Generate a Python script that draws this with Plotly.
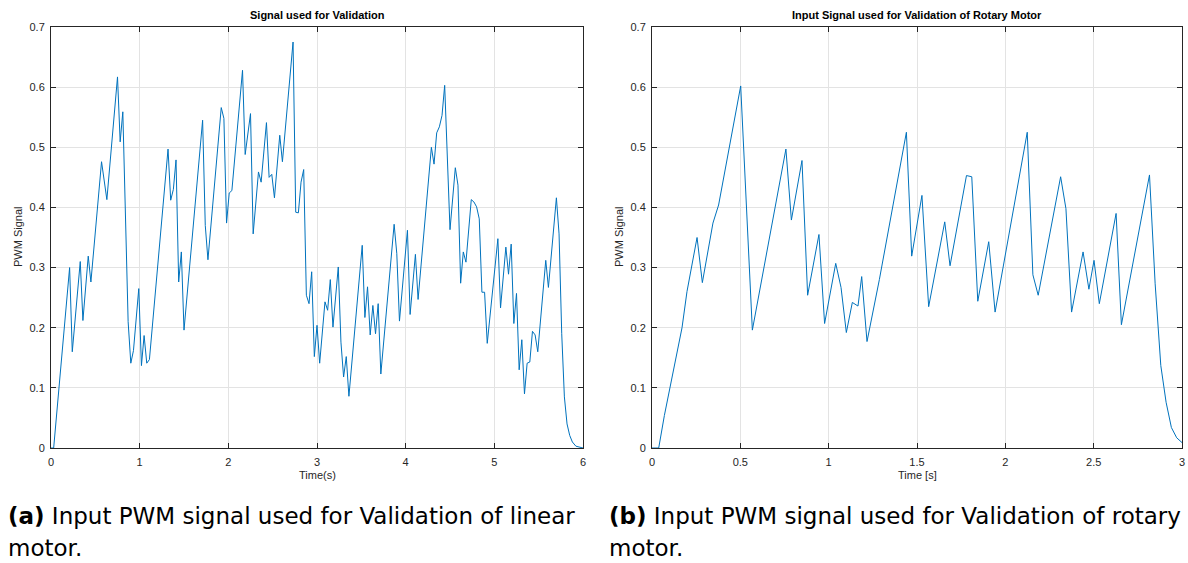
import plotly.graph_objects as go

# ---------------- data ----------------
title_lin = "Signal used for Validation"
title_rot = "Input Signal used for Validation of Rotary Motor"
xlabel_lin = "Time(s)"
xlabel_rot = "Time [s]"
ylabel = "PWM Signal"
caption_a1 = "<b>(a)</b> Input PWM signal used for Validation of linear"
caption_b1 = "<b>(b)</b> Input PWM signal used for Validation of rotary"
caption_2 = "motor."

t_lin = [0, 0.03, 0.21, 0.24, 0.33, 0.36, 0.42, 0.45, 0.57, 0.60, 0.63, 0.75, 0.78, 0.81,
         0.87, 0.90, 0.93, 0.99, 1.02, 1.05, 1.08, 1.11, 1.32, 1.35, 1.38, 1.41, 1.44, 1.47,
         1.50, 1.71, 1.74, 1.77, 1.92, 1.95, 1.98, 2.01, 2.04, 2.16, 2.19, 2.25, 2.28, 2.34,
         2.37, 2.43, 2.46, 2.49, 2.52, 2.58, 2.61, 2.73, 2.76, 2.79, 2.82, 2.85, 2.88, 2.91,
         2.94, 2.97, 3.00, 3.03, 3.09, 3.12, 3.15, 3.18, 3.24, 3.27, 3.30, 3.33, 3.36, 3.51,
         3.54, 3.57, 3.60, 3.63, 3.66, 3.69, 3.72, 3.87, 3.90, 3.93, 4.02, 4.05, 4.11, 4.14,
         4.29, 4.32, 4.35, 4.38, 4.41, 4.44, 4.50, 4.56, 4.59, 4.62, 4.65, 4.68, 4.74, 4.77,
         4.80, 4.83, 4.86, 4.89, 4.92, 5.04, 5.07, 5.13, 5.16, 5.19, 5.22, 5.25, 5.28, 5.31,
         5.34, 5.37, 5.40, 5.43, 5.46, 5.49, 5.58, 5.61, 5.70, 5.73, 5.76, 5.79, 5.82, 5.85,
         5.88, 5.92, 5.96, 6.00]
v_lin = [0, 0, 0.300, 0.160, 0.310, 0.212, 0.319, 0.276, 0.476, 0.440, 0.413, 0.617, 0.509, 0.559,
         0.210, 0.141, 0.162, 0.265, 0.137, 0.187, 0.141, 0.147, 0.497, 0.412, 0.430, 0.479, 0.276, 0.326,
         0.196, 0.545, 0.370, 0.313, 0.566, 0.548, 0.374, 0.424, 0.428, 0.628, 0.488, 0.556, 0.356, 0.459,
         0.442, 0.541, 0.450, 0.455, 0.416, 0.520, 0.476, 0.675, 0.392, 0.391, 0.442, 0.463, 0.254, 0.240,
         0.293, 0.152, 0.204, 0.141, 0.243, 0.229, 0.280, 0.201, 0.301, 0.176, 0.118, 0.152, 0.086, 0.337,
         0.217, 0.268, 0.188, 0.237, 0.190, 0.240, 0.123, 0.372, 0.323, 0.211, 0.362, 0.222, 0.322, 0.247,
         0.500, 0.472, 0.524, 0.534, 0.553, 0.603, 0.363, 0.466, 0.437, 0.274, 0.326, 0.309, 0.413, 0.409,
         0.401, 0.381, 0.259, 0.259, 0.174, 0.348, 0.233, 0.334, 0.289, 0.339, 0.207, 0.257, 0.130, 0.180,
         0.090, 0.141, 0.143, 0.194, 0.188, 0.160, 0.312, 0.267, 0.416, 0.356, 0.190, 0.085, 0.040, 0.021,
         0.010, 0.003, 0.001, 0.000]

t_rot = [0, 0.038, 0.07, 0.17, 0.198, 0.255, 0.285, 0.345, 0.377, 0.502, 0.568, 0.758, 0.789,
         0.849, 0.881, 0.945, 0.977, 1.04, 1.07, 1.10, 1.134, 1.166, 1.187, 1.217, 1.287, 1.44,
         1.47, 1.528, 1.566, 1.657, 1.687, 1.78, 1.81, 1.844, 1.906, 1.942, 2.124, 2.156, 2.186,
         2.313, 2.343, 2.375, 2.44, 2.473, 2.502, 2.532, 2.627, 2.657, 2.816, 2.848, 2.88, 2.91,
         2.94, 2.97, 3.0]
v_rot = [0, 0, 0.054, 0.20, 0.26, 0.35, 0.275, 0.374, 0.404, 0.602, 0.196, 0.497, 0.379,
         0.478, 0.254, 0.355, 0.207, 0.307, 0.267, 0.192, 0.242, 0.236, 0.285, 0.177, 0.28, 0.525,
         0.319, 0.42, 0.235, 0.376, 0.303, 0.453, 0.451, 0.244, 0.343, 0.226, 0.525, 0.288, 0.254,
         0.451, 0.398, 0.226, 0.326, 0.264, 0.312, 0.24, 0.39, 0.205, 0.454, 0.273, 0.137, 0.076,
         0.034, 0.017, 0.009]

x_ticks_lin = [0, 1, 2, 3, 4, 5, 6]
x_ticks_rot = [0, 0.5, 1, 1.5, 2, 2.5, 3]
x_ticktext_rot = ["0", "0.5", "1", "1.5", "2", "2.5", "3"]
y_ticks = [0, 0.1, 0.2, 0.3, 0.4, 0.5, 0.6, 0.7]
y_ticktext = ["0", "0.1", "0.2", "0.3", "0.4", "0.5", "0.6", "0.7"]

# ---------------- layout helpers (page pixels -> paper) ----------------
W, H, OFF = 1188, 563, 0


def fx(p):
    return (p - OFF) / W


def fy(p):
    return 1 - (p - OFF) / H


LINE = "#0072BD"
AX = "#262626"
GRID = "#e3e3e3"
FONT = "Liberation Sans, Arial, sans-serif"
CAPFONT = "DejaVu Sans, sans-serif"

fig = go.Figure()
fig.add_trace(go.Scatter(x=t_lin, y=v_lin, mode="lines", line=dict(color=LINE, width=1),
                         xaxis="x", yaxis="y", showlegend=False, hoverinfo="skip"))
fig.add_trace(go.Scatter(x=t_rot, y=v_rot, mode="lines", line=dict(color=LINE, width=1),
                         xaxis="x2", yaxis="y2", showlegend=False, hoverinfo="skip"))

common = dict(showline=True, linecolor=AX, linewidth=1, mirror="ticks", ticks="inside",
              ticklen=5, tickwidth=1, tickcolor=AX, showgrid=True, gridcolor=GRID, gridwidth=1,
              zeroline=False, tickfont=dict(family=FONT, size=11, color=AX), fixedrange=True,
              automargin=False)

fig.update_layout(
    width=W, height=H, margin=dict(l=0, r=0, t=0, b=0, autoexpand=False),
    paper_bgcolor="white", plot_bgcolor="white",
    xaxis=dict(domain=[fx(51), fx(583)], range=[0, 6], tickvals=x_ticks_lin,
               anchor="y", ticklabelstandoff=4, **common),
    yaxis=dict(domain=[fy(448), fy(27)], range=[0, 0.7], tickvals=y_ticks, ticktext=y_ticktext,
               anchor="x", ticklabelstandoff=3, **common),
    xaxis2=dict(domain=[fx(652), fx(1182)], range=[0, 3], tickvals=x_ticks_rot,
                ticktext=x_ticktext_rot, anchor="y2", ticklabelstandoff=4, **common),
    yaxis2=dict(domain=[fy(448), fy(27)], range=[0, 0.7], tickvals=y_ticks, ticktext=y_ticktext,
                anchor="x2", ticklabelstandoff=3, **common),
)

ann = []
# titles
ann.append(dict(x=fx(317), y=fy(15), text="<b>" + title_lin + "</b>", font=dict(family=FONT, size=11, color="black")))
ann.append(dict(x=fx(917), y=fy(15), text="<b>" + title_rot + "</b>", font=dict(family=FONT, size=11, color="black")))
# x labels
ann.append(dict(x=fx(317), y=fy(475), text=xlabel_lin, font=dict(family=FONT, size=11, color=AX)))
ann.append(dict(x=fx(917), y=fy(475), text=xlabel_rot, font=dict(family=FONT, size=11, color=AX)))
# y labels
ann.append(dict(x=fx(18), y=fy(237), text=ylabel, textangle=-90, font=dict(family=FONT, size=11, color=AX)))
ann.append(dict(x=fx(619), y=fy(237), text=ylabel, textangle=-90, font=dict(family=FONT, size=11, color=AX)))
for a in ann:
    a.update(xref="paper", yref="paper", showarrow=False, xanchor="center", yanchor="middle")

caps = [
    dict(x=fx(6), y=fy(516), text=caption_a1),
    dict(x=fx(6), y=fy(548), text=caption_2),
    dict(x=fx(607), y=fy(516), text=caption_b1),
    dict(x=fx(607), y=fy(548), text=caption_2),
]
for c in caps:
    c.update(xref="paper", yref="paper", showarrow=False, xanchor="left", yanchor="middle",
             font=dict(family=CAPFONT, size=23, color="black"))
    ann.append(c)

fig.update_layout(annotations=ann)
fig.write_html("out.html", config={"displayModeBar": False},
               post_script="document.body.style.margin='0';")
